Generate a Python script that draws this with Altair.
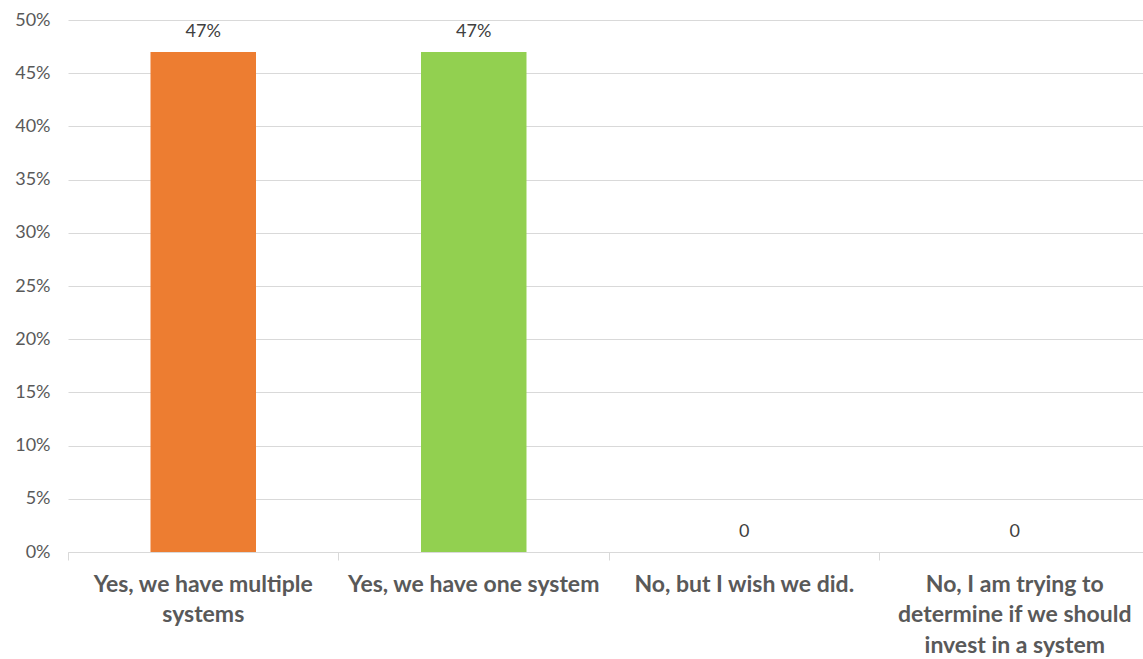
import altair as alt
import pandas as pd

categories = [
    "Yes, we have multiple|systems",
    "Yes, we have one system",
    "No, but I wish we did.",
    "No,  I am trying to|determine if we should|invest in a system",
]
values = [0.47, 0.47, 0.0, 0.0]
value_labels = ["47%", "47%", "0", "0"]
colors = ["#ED7D31", "#92D050", "#A5A5A5", "#FFC000"]
y_ticks = [0.0, 0.05, 0.10, 0.15, 0.20, 0.25, 0.30, 0.35, 0.40, 0.45, 0.50]

df = pd.DataFrame({
    "cat": categories,
    "value": values,
    "label": value_labels,
    "color": colors,
})

FONT = "Lato"

x = alt.X(
    "cat:N",
    sort=categories,
    title=None,
    scale=alt.Scale(paddingInner=0.61, paddingOuter=0.305, range=[0, 1082]),
    axis=alt.Axis(
        labelExpr="split(datum.label, '|')",
        labelAngle=0,
        labelFont=FONT,
        labelFontSize=23,
        labelFontWeight="bold",
        labelColor="#595959",
        labelLineHeight=30.5,
        labelPadding=13,
        labelLimit=400,
        bandPosition=-0.782,
        tickSize=8,
        tickColor="#D9D9D9",
        domainColor="#D9D9D9",
        grid=False,
    ),
)

y = alt.Y(
    "value:Q",
    title=None,
    scale=alt.Scale(domain=[0, 0.5], nice=False),
    axis=alt.Axis(
        values=y_ticks,
        format=".0%",
        labelFont=FONT,
        labelFontSize=18,
        labelColor="#595959",
        labelPadding=18,
        ticks=False,
        domain=False,
        gridColor="#D9D9D9",
        gridWidth=1,
    ),
)

bars = alt.Chart(df).mark_bar().encode(
    x=x,
    y=y,
    color=alt.Color("color:N", scale=None),
)

text = alt.Chart(df).mark_text(
    baseline="bottom", dy=-11, font=FONT, fontSize=18, color="#404040"
).encode(
    x=alt.X("cat:N", sort=categories),
    y=alt.Y("value:Q"),
    text="label:N",
)

chart = (bars + text).properties(
    width=1075,
    height=532,
    autosize=alt.AutoSizeParams(type="none"),
    padding={"left": 68, "top": 20, "right": 0, "bottom": 107},
).configure_view(stroke=None)

chart.save("out.html", embed_options={"renderer": "svg", "actions": False})
